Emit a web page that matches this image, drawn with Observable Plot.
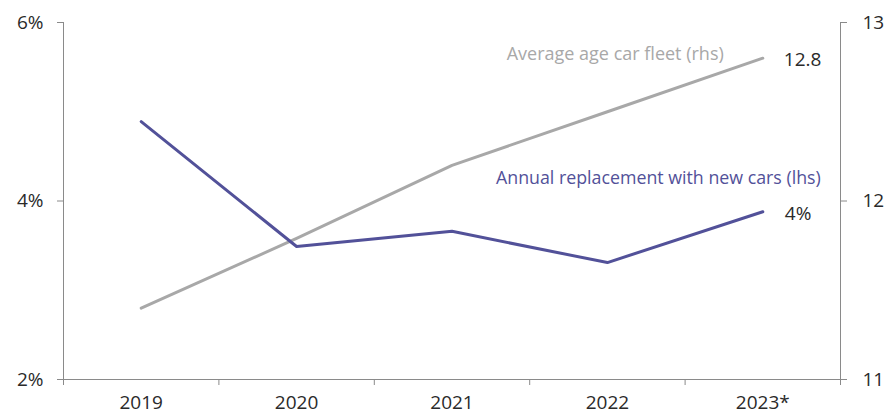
<!DOCTYPE html>
<html><head><meta charset="utf-8">
<script src="https://cdn.jsdelivr.net/npm/d3@7"></script>
<script src="https://cdn.jsdelivr.net/npm/@observablehq/plot@0.6"></script>
<style>body{margin:0;background:#fff;font-family:"Open Sans",sans-serif}</style>
</head><body><div id="chart"></div>
<script>
const years = ["2019","2020","2021","2022","2023*"];
const replacement = [4.89, 3.49, 3.66, 3.31, 3.88]; // % (lhs)
const avgAge = [11.40, 11.79, 12.20, 12.50, 12.80]; // years (rhs)
const leftTicks = [2, 4, 6];
const rightTicks = [11, 12, 13];

const toLeft = v => 2 + (v - 11) * 2;
const rep = years.map((y, i) => ({i, v: replacement[i]}));
const age = years.map((y, i) => ({i, v: toLeft(avgAge[i])}));
const last = years.length - 1;
const purple = "#525199", grey = "#a8a8a8", axisC = "#8a8a8a", ink = "#2a2a2a";

const plot = Plot.plot({
  width: 886, height: 416,
  marginLeft: 63, marginRight: 46, marginTop: 22, marginBottom: 37,
  style: {fontFamily: "Open Sans, sans-serif", fontSize: "19px", color: ink},
  x: {domain: [-0.5, years.length - 0.5], label: null},
  y: {domain: [2, 6], label: null},
  marks: [
    Plot.ruleX([-0.5, years.length - 0.5], {stroke: axisC, strokeWidth: 1}),
    Plot.ruleY([2], {stroke: axisC, strokeWidth: 1}),
    Plot.axisX({ticks: d3.range(-0.5, years.length, 1), tickFormat: () => "", tickSize: 6, stroke: axisC, label: null}),
    Plot.axisX({ticks: d3.range(years.length), tickFormat: i => years[i], tickSize: 0, tickPadding: 16, fontSize: 19, fill: ink, label: null}),
    Plot.axisY({anchor: "left", ticks: leftTicks, tickFormat: d => d + "%", tickSize: 6, tickPadding: 14, stroke: axisC, fontSize: 19, fill: ink, label: null}),
    Plot.axisY({anchor: "right", ticks: rightTicks.map(toLeft), tickFormat: d => String(11 + (d - 2) / 2), tickSize: 6, tickPadding: 16, stroke: axisC, fontSize: 19, fill: ink, label: null}),
    Plot.line(age, {x: "i", y: "v", stroke: grey, strokeWidth: 3}),
    Plot.line(rep, {x: "i", y: "v", stroke: purple, strokeWidth: 3}),
    Plot.text([age[last]], {x: "i", y: "v", text: () => avgAge[last].toFixed(1), textAnchor: "start", dx: 21, dy: 2, fontSize: 19, fill: ink}),
    Plot.text([rep[last]], {x: "i", y: "v", text: () => Math.round(replacement[last]) + "%", textAnchor: "start", dx: 22, dy: 2, fontSize: 19, fill: ink}),
    Plot.text([age[last]], {x: "i", y: "v", text: () => "Average age car fleet (rhs)", textAnchor: "end", dx: -39, dy: -4, fontSize: 18, fill: grey}),
    Plot.text([rep[last]], {x: "i", y: "v", text: () => "Annual replacement with new cars (lhs)", textAnchor: "end", dx: 58, dy: -33, fontSize: 17.8, fill: purple})
  ]
});
document.getElementById("chart").appendChild(plot);
</script></body></html>
